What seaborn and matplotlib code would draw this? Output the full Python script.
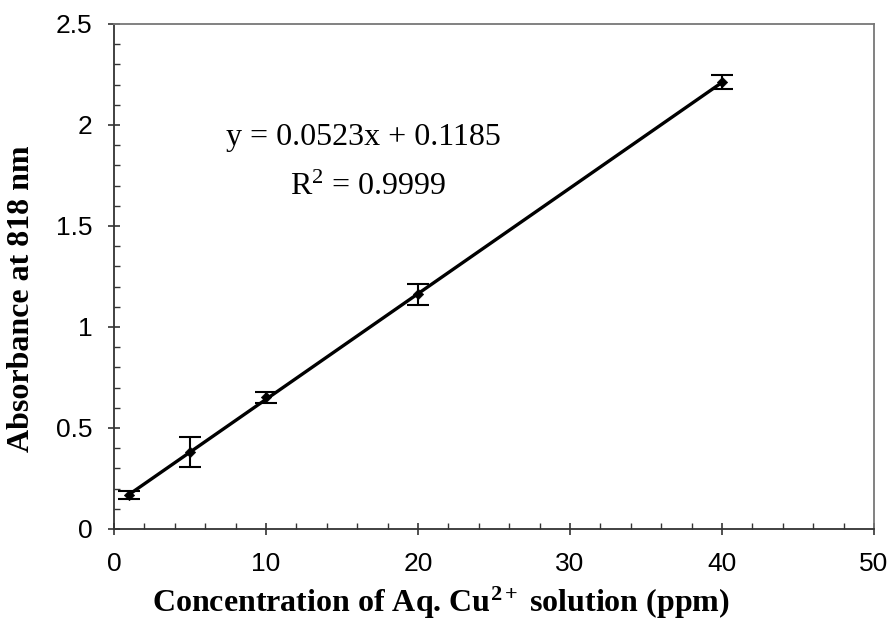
import numpy as np
import pandas as pd
import matplotlib
matplotlib.use("Agg")
import matplotlib.pyplot as plt
from matplotlib.ticker import MultipleLocator
import seaborn as sns

# Calibration data: Cu2+ concentration vs absorbance at 818 nm
concentration = [1, 5, 10, 20, 40]
absorbance = [0.168, 0.380, 0.652, 1.161, 2.213]
abs_error = [0.018, 0.073, 0.027, 0.050, 0.035]

# Linear fit reported on the chart
slope = 0.0523
intercept = 0.1185
r_squared = 0.9999

x_ticks = [0, 10, 20, 30, 40, 50]
y_ticks = [0, 0.5, 1, 1.5, 2, 2.5]

sns.set_theme(style="ticks")
plt.rcParams["font.family"] = ["Liberation Sans", "DejaVu Sans"]
plt.rcParams["mathtext.fontset"] = "custom"
plt.rcParams["mathtext.rm"] = "Liberation Serif"
plt.rcParams["mathtext.bf"] = "Liberation Serif:bold"
plt.rcParams["mathtext.it"] = "Liberation Serif:italic"

df = pd.DataFrame({"conc": concentration, "abs": absorbance, "err": abs_error})
fit_x = np.array([concentration[0], concentration[-1]], dtype=float)
fit = pd.DataFrame({"conc": fit_x, "abs": slope * fit_x + intercept})

fig = plt.figure(figsize=(8.9, 6.26), dpi=100)
ax = fig.add_axes([0.128, 0.155, 0.854, 0.8067])

# fitted calibration line
sns.lineplot(data=fit, x="conc", y="abs", ax=ax, color="black", linewidth=2.4,
             legend=False)
# error bars and measured points
ax.errorbar(df["conc"], df["abs"], yerr=df["err"], fmt="none", ecolor="black",
            elinewidth=1.5, capsize=8, capthick=1.5, zorder=3)
sns.scatterplot(data=df, x="conc", y="abs", ax=ax, marker="D", s=28,
                color="black", edgecolor="black", zorder=4, legend=False)

ax.set_xlim(0, 50)
ax.set_ylim(0, 2.5)
ax.set_xticks(x_ticks)
ax.set_yticks(y_ticks)
ax.set_xticklabels([f"{v:g}" for v in x_ticks])
ax.set_yticklabels([f"{v:g}" for v in y_ticks])
ax.xaxis.set_minor_locator(MultipleLocator(2))
ax.yaxis.set_minor_locator(MultipleLocator(0.1))

ax.tick_params(axis="both", which="major", direction="inout", length=9,
               width=1.2, color="#333333", labelsize=19, colors="black")
ax.tick_params(axis="x", which="major", pad=12)
ax.tick_params(axis="y", which="major", pad=11)
ax.tick_params(axis="both", which="minor", direction="in", length=4.5,
               width=1.0, color="#333333")

for side in ["left", "bottom"]:
    ax.spines[side].set_color("#333333")
    ax.spines[side].set_linewidth(1.3)
for side in ["top", "right"]:
    ax.spines[side].set_visible(True)
    ax.spines[side].set_color("#777777")
    ax.spines[side].set_linewidth(1.3)

label_font = dict(family=["Liberation Serif", "DejaVu Serif"], fontweight="bold",
                  fontsize=23, color="black")
ax.set_xlabel(r"Concentration of Aq. Cu$^{\mathbf{2+}}$ solution (ppm)", **label_font)
ax.set_ylabel("Absorbance at 818 nm", **label_font)
ax.xaxis.set_label_coords(0.43, -0.110)
ax.yaxis.set_label_coords(-0.103, 0.455)

eq_font = dict(family=["Liberation Serif", "DejaVu Serif"], fontsize=23,
               color="black", ha="center", va="center")
ax.text(16.4, 1.94, f"y = {slope:.4f}x + {intercept:.4f}", **eq_font)
ax.text(16.7, 1.69, f"R$^{{2}}$ = {r_squared:.4f}", **eq_font)

fig.savefig("out.png", dpi=100, facecolor="white")
